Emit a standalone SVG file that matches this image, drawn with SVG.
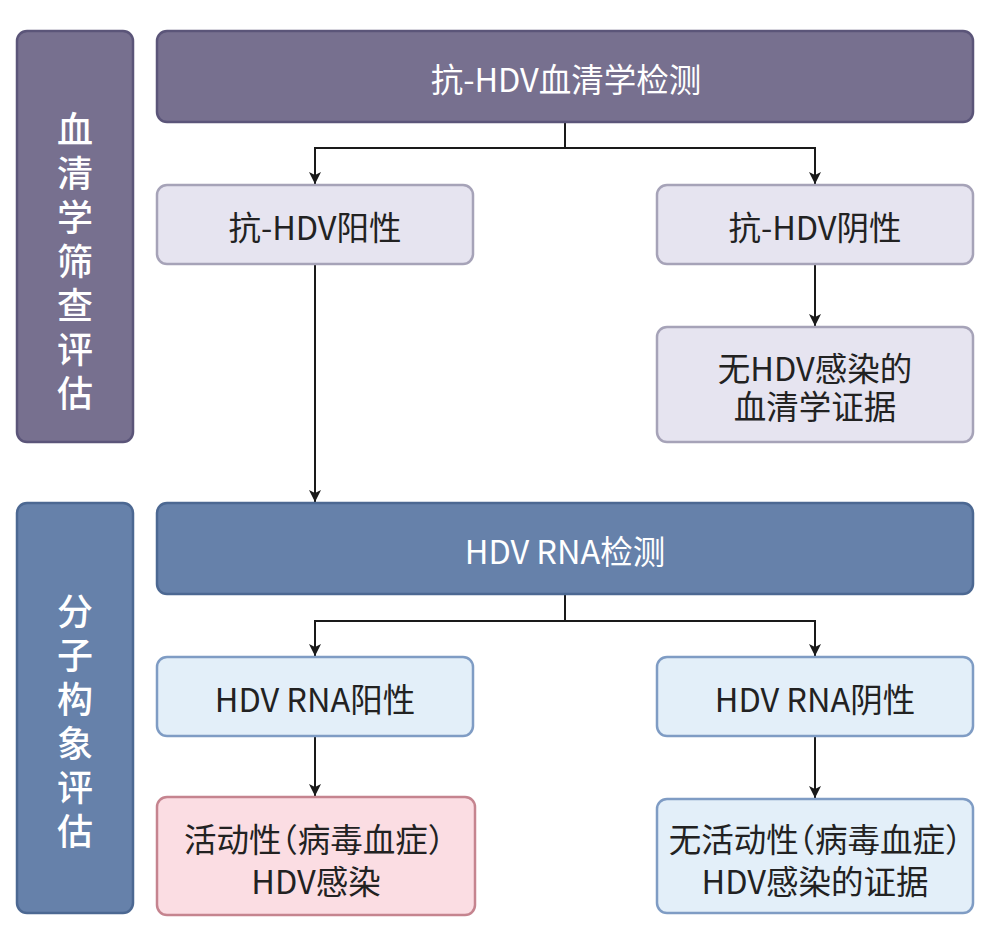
<svg xmlns="http://www.w3.org/2000/svg" width="991" height="945" viewBox="0 0 991 945">
<defs>
<marker id="ah" viewBox="0 0 12 12" refX="12" refY="6" markerWidth="12" markerHeight="12" markerUnits="userSpaceOnUse" orient="auto">
<path d="M0,0 L12,6 L0,12 L3,6 z" fill="#1a1a1a"/>
</marker>
<style>
text{font-family:"Noto Sans CJK SC","Noto Sans",sans-serif;font-size:32.5px;text-anchor:middle;dominant-baseline:central}
.s{font-size:36px;font-weight:500}
.h{font-feature-settings:"halt" 1}
.hp{fill:#77708f;stroke:#5b5579;stroke-width:2.5}
.hb{fill:#6681aa;stroke:#4c6892;stroke-width:2.5}
.lp{fill:#e6e4f0;stroke:#a6a3b8;stroke-width:2.5}
.lb{fill:#e3eff9;stroke:#7f9cc4;stroke-width:2.5}
.pk{fill:#fbdde3;stroke:#c5848f;stroke-width:2.5}
.w{fill:#ffffff}
.d{fill:#222222}
.c{fill:none;stroke:#1a1a1a;stroke-width:2;marker-end:url(#ah)}
.l{fill:none;stroke:#1a1a1a;stroke-width:2}
</style>
</defs>
<rect width="991" height="945" fill="#ffffff"/>
<g id="connectors">
<path class="l" d="M565,122 V148 M314,148 H816"/>
<path class="c" d="M315,148 V184"/>
<path class="c" d="M815,148 V184"/>
<path class="c" d="M315,264 V502"/>
<path class="c" d="M815,264 V326"/>
<path class="l" d="M565,594 V621 M314,621 H816"/>
<path class="c" d="M315,621 V656"/>
<path class="c" d="M815,621 V656"/>
<path class="c" d="M315,736 V796"/>
<path class="c" d="M815,736 V798"/>
</g>
<g id="side1">
<rect class="hp" x="17" y="31" width="116" height="411" rx="10"/>
<text class="w s" x="75" y="127"><tspan x="75" y="127">血</tspan><tspan x="75" y="171">清</tspan><tspan x="75" y="215">学</tspan><tspan x="75" y="259">筛</tspan><tspan x="75" y="303">查</tspan><tspan x="75" y="347">评</tspan><tspan x="75" y="391">估</tspan></text>
</g>
<g id="top1">
<rect class="hp" x="157" y="31" width="816" height="91" rx="10"/>
<text class="w" x="566" y="77">抗-HDV血清学检测</text>
</g>
<g id="antipos">
<rect class="lp" x="157" y="185" width="316" height="79" rx="10"/>
<text class="d" x="315" y="225">抗-HDV阳性</text>
</g>
<g id="antineg">
<rect class="lp" x="657" y="185" width="316" height="79" rx="10"/>
<text class="d" x="815" y="225">抗-HDV阴性</text>
</g>
<g id="noserum">
<rect class="lp" x="657" y="327" width="316" height="115" rx="10"/>
<text class="d" x="815" y="366"><tspan x="815" y="366">无HDV感染的</tspan><tspan x="815" y="404">血清学证据</tspan></text>
</g>
<g id="side2">
<rect class="hb" x="17" y="503" width="116" height="410" rx="10"/>
<text class="w s" x="75" y="609"><tspan x="75" y="609">分</tspan><tspan x="75" y="653">子</tspan><tspan x="75" y="697">构</tspan><tspan x="75" y="741">象</tspan><tspan x="75" y="785">评</tspan><tspan x="75" y="829">估</tspan></text>
</g>
<g id="top2">
<rect class="hb" x="157" y="503" width="816" height="91" rx="10"/>
<text class="w" x="565" y="549">HDV RNA检测</text>
</g>
<g id="rnapos">
<rect class="lb" x="157" y="657" width="316" height="79" rx="10"/>
<text class="d" x="315" y="697">HDV RNA阳性</text>
</g>
<g id="rnaneg">
<rect class="lb" x="657" y="657" width="316" height="79" rx="10"/>
<text class="d" x="815" y="697">HDV RNA阴性</text>
</g>
<g id="active">
<rect class="pk" x="157" y="797" width="318" height="118" rx="10"/>
<text class="d h" x="314" y="837"><tspan x="314" y="837">活动性（病毒血症）</tspan><tspan x="316" y="879">HDV感染</tspan></text>
</g>
<g id="inactive">
<rect class="lb" x="657" y="799" width="316" height="114" rx="10"/>
<text class="d h" x="815" y="837"><tspan x="815" y="837">无活动性（病毒血症）</tspan><tspan x="815" y="879">HDV感染的证据</tspan></text>
</g>
</svg>
